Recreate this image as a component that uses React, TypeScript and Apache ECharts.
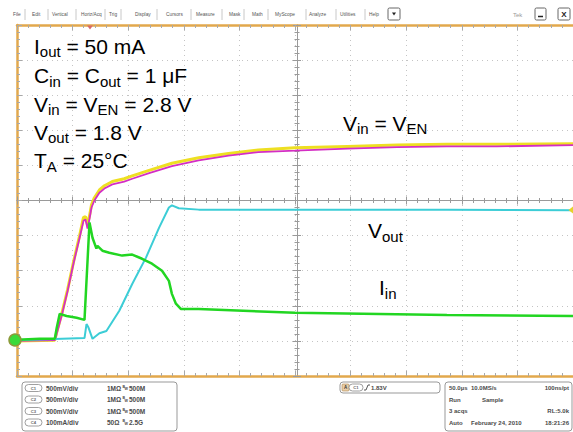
import React, { useEffect, useRef } from 'react';
import * as echarts from 'echarts';

// ---- data (time in µs, 50 µs/div; voltages in V, 500 mV/div; current in mA, 100 mA/div)
const vinTime = [0, 34, 35.7, 40.2, 45.5, 50.9, 56.3, 59.8, 61.6, 63.4, 65.2, 67.0, 69.6, 74.1, 78.6, 85.7, 96.4, 103.6, 118.8, 139.3, 163.4, 190.2, 217, 250, 297.3, 342, 386.6, 431.3, 500];
const vinMagenta = [0, 0.01, 0.10, 0.36, 0.71, 1.11, 1.47, 1.71, 1.73, 1.60, 1.74, 1.90, 2.00, 2.11, 2.17, 2.23, 2.27, 2.31, 2.39, 2.49, 2.57, 2.64, 2.69, 2.71, 2.74, 2.76, 2.77, 2.77, 2.79];
const vinYellow = [0, 0.01, 0.12, 0.38, 0.73, 1.13, 1.50, 1.76, 1.77, 1.66, 1.78, 1.94, 2.04, 2.15, 2.21, 2.27, 2.31, 2.35, 2.43, 2.53, 2.61, 2.67, 2.72, 2.75, 2.77, 2.79, 2.80, 2.80, 2.81];

const voutTime = [0, 60.7, 62.5, 64.3, 67.9, 74.1, 80.4, 92.0, 103.6, 116.1, 127.7, 136.6, 139.3, 145.5, 163.4, 250, 386.6, 500];
const voutValues = [0.01, 0.04, 0.24, 0.19, 0.03, 0.11, 0.14, 0.43, 0.81, 1.19, 1.61, 1.90, 1.93, 1.89, 1.87, 1.87, 1.87, 1.86];

const iinTime = [0, 20.5, 34, 35.7, 38.4, 44.6, 53.6, 60.7, 65.2, 67.9, 71.4, 72.3, 76.8, 83.0, 94.6, 103.6, 112.5, 121.4, 130.4, 136.6, 139.3, 142.9, 147.3, 163.4, 250, 386.6, 500];
const iinValues = [3, 6, 6, 37, 77, 71, 66, 60, 337, 294, 263, 271, 257, 251, 243, 246, 234, 220, 200, 171, 134, 106, 91, 91, 80, 74, 71];

const menuItems = ['File', 'Edit', 'Vertical', 'Horiz/Acq', 'Trig', 'Display', 'Cursors', 'Measure', 'Mask', 'Math', 'MyScope', 'Analyze', 'Utilities', 'Help'];
const menuX = [13, 32, 52, 81, 109, 135, 166, 196, 229, 252, 275, 309, 340, 369];
const menuSep = [25, 48, 76, 105, 121, 157, 191, 222, 244, 268, 306, 336, 365];

const channelRows = [
  ['C1', '500mV/div', '1MΩ', '500M'],
  ['C2', '500mV/div', '1MΩ', '500M'],
  ['C3', '500mV/div', '1MΩ', '500M'],
  ['C4', '100mA/div', '50Ω', '2.5G'],
];

const FONT = '"Liberation Sans", Arial, Helvetica, sans-serif';
const frameColor = '#e2a84c';
const tickColor = '#a8a8a8';
const dotColor = '#c4c4c4';

const zip = (a: number[], b: number[]) => a.map((v, i) => [v, b[i]]);

function ann(x: number, y: number, parts: [string, boolean][]) {
  return {
    type: 'text',
    x,
    y,
    z: 50,
    style: {
      text: parts.map(([t, s]) => `{${s ? 's' : 'm'}|${t}}`).join(''),
      rich: {
        m: { fontSize: 21, fontFamily: FONT, fill: '#000' },
        s: { fontSize: 15, fontFamily: FONT, fill: '#000', padding: [11, 0, 0, 0] },
      },
      verticalAlign: 'middle',
      align: 'left',
    },
  };
}

function small(x: number, y: number, text: string, opts: any = {}) {
  return {
    type: 'text',
    x,
    y,
    z: 60,
    style: {
      text,
      fontSize: opts.fontSize || 6,
      fontWeight: opts.bold === false ? 'normal' : 'bold',
      fontFamily: FONT,
      fill: opts.fill || '#4a4a4a',
      verticalAlign: 'middle',
      align: opts.align || 'left',
    },
  };
}

function pill(x: number, y: number, w: number, label: string) {
  return [
    { type: 'rect', z: 60, shape: { x, y: y - 3.5, width: w, height: 7, r: 3.5 }, style: { fill: '#fff', stroke: '#888', lineWidth: 0.8 } },
    small(x + w / 2, y, label, { fontSize: 4.2, align: 'center', fill: '#666' }),
  ];
}

export default function App() {
  const ref = useRef<HTMLDivElement>(null);
  useEffect(() => {
    if (!ref.current) return;
    const chart = echarts.init(ref.current, undefined, { renderer: 'svg' });

    const borderAxis = (position: string, extra: any = {}) => ({
      type: 'value',
      position,
      axisLine: { show: true, onZero: false, lineStyle: { color: frameColor, width: 2.5 } },
      axisTick: { show: true, inside: true, length: 5, lineStyle: { color: tickColor, width: 1 } },
      minorTick: { show: true, splitNumber: 5, length: 3, lineStyle: { color: tickColor, width: 1 } },
      axisLabel: { show: false },
      splitLine: { show: false },
      ...extra,
    });
    const centerAxis = (position: string, offset: number, inside: boolean, extra: any = {}) => ({
      type: 'value',
      position,
      offset,
      axisLine: { show: true, onZero: false, lineStyle: { color: '#9a9a9a', width: 1 } },
      axisTick: { show: true, inside, length: 4, lineStyle: { color: '#9a9a9a', width: 1 } },
      minorTick: { show: true, splitNumber: 5, length: 2.5, lineStyle: { color: '#9a9a9a', width: 1 } },
      axisLabel: { show: false },
      splitLine: { show: false },
      ...extra,
    });

    const xRange = { min: 0, max: 500, interval: 50 };
    const yRange = { min: -0.5, max: 4.5, interval: 0.5 };

    const graphics: any[] = [];
    // menu bar
    menuItems.forEach((m, i) => graphics.push(small(menuX[i], 14.5, m, { fontSize: 4.8, bold: false, fill: '#555' })));
    menuSep.forEach((sx) => graphics.push({ type: 'line', z: 60, shape: { x1: sx, y1: 9, x2: sx, y2: 20 }, style: { stroke: '#c8c8c8', lineWidth: 1 } }));
    graphics.push({ type: 'rect', z: 60, shape: { x: 388, y: 8, width: 12, height: 12, r: 1.5 }, style: { fill: '#fff', stroke: '#666', lineWidth: 1 } });
    graphics.push({ type: 'polygon', z: 61, shape: { points: [[392, 12.5], [396, 12.5], [394, 15.5]] }, style: { fill: '#222' } });
    graphics.push(small(513, 14.5, 'Tek', { fontSize: 6, bold: false, fill: '#999' }));
    graphics.push({ type: 'rect', z: 60, shape: { x: 535, y: 8, width: 11, height: 12, r: 1.5 }, style: { fill: '#fff', stroke: '#666', lineWidth: 1 } });
    graphics.push({ type: 'line', z: 61, shape: { x1: 538, y1: 16.5, x2: 543, y2: 16.5 }, style: { stroke: '#222', lineWidth: 1.5 } });
    graphics.push({ type: 'rect', z: 60, shape: { x: 558, y: 8, width: 12, height: 12, r: 1.5 }, style: { fill: '#fff', stroke: '#666', lineWidth: 1 } });
    graphics.push(small(564, 14.5, 'X', { fontSize: 8, align: 'center', fill: '#222' }));

    // scope markers
    graphics.push({ type: 'polygon', z: 40, shape: { points: [[87, 25.5], [93, 25.5], [90, 29.5]] }, style: { fill: '#d86a6a' } });
    graphics.push({ type: 'polygon', z: 40, shape: { points: [[573, 206.5], [573, 213.5], [568.5, 210]] }, style: { fill: '#e6d22a' } });
    graphics.push({ type: 'circle', z: 45, shape: { cx: 15, cy: 340, r: 6 }, style: { fill: '#3ada3a', stroke: '#8c9a3a', lineWidth: 1.5 } });

    // annotations
    graphics.push(ann(34, 46, [['I', false], ['out', true], [' = 50 mA', false]]));
    graphics.push(ann(34, 75.5, [['C', false], ['in', true], [' = C', false], ['out', true], [' = 1 μF', false]]));
    graphics.push(ann(34, 104, [['V', false], ['in', true], [' = V', false], ['EN', true], [' = 2.8 V', false]]));
    graphics.push(ann(34, 132, [['V', false], ['out', true], [' = 1.8 V', false]]));
    graphics.push(ann(34, 160.5, [['T', false], ['A', true], [' = 25°C', false]]));
    graphics.push(ann(343, 123, [['V', false], ['in', true], [' = V', false], ['EN', true]]));
    graphics.push(ann(368, 230.5, [['V', false], ['out', true]]));
    graphics.push(ann(379, 287.5, [['I', false], ['in', true]]));

    // channel panel
    graphics.push({ type: 'rect', z: 55, shape: { x: 22, y: 382, width: 155, height: 49, r: 3 }, style: { fill: '#fff', stroke: '#999', lineWidth: 1 } });
    const rowY = [388, 399.5, 411, 422.5];
    channelRows.forEach((r, i) => {
      const y = rowY[i];
      graphics.push(...pill(25, y, 17, r[0]));
      graphics.push(small(46, y, r[1], { fontSize: 6.5 }));
      graphics.push(small(107, y, r[2], { fontSize: 6.5 }));
      graphics.push(small(122.5, y - 1.2, 'B', { fontSize: 3.6 }));
      graphics.push(small(124.5, y + 1.2, 'W', { fontSize: 3.6 }));
      graphics.push(small(129, y, r[3], { fontSize: 6.5 }));
    });

    // trigger panel
    graphics.push({ type: 'rect', z: 55, shape: { x: 340, y: 382, width: 100, height: 11, r: 3 }, style: { fill: '#fff', stroke: '#999', lineWidth: 1 } });
    graphics.push({ type: 'rect', z: 58, shape: { x: 342, y: 384, width: 7, height: 7, r: 1 }, style: { fill: '#e8cfa8', stroke: '#b08850', lineWidth: 0.6 } });
    graphics.push(small(345.5, 387.5, 'A', { fontSize: 4.5, align: 'center', fill: '#333' }));
    graphics.push(...pill(349, 387.5, 14, 'C1'));
    graphics.push({ type: 'polyline', z: 60, shape: { points: [[364, 390], [366, 390], [368, 385], [370, 385]] }, style: { stroke: '#444', lineWidth: 0.9, fill: 'none' } });
    graphics.push(small(371, 387.5, '1.83V'));

    // timebase panel
    graphics.push({ type: 'rect', z: 55, shape: { x: 445, y: 382, width: 127, height: 49, r: 3 }, style: { fill: '#fff', stroke: '#999', lineWidth: 1 } });
    graphics.push(small(449, 388, '50.0µs'));
    graphics.push(small(471, 388, '10.0MS/s'));
    graphics.push(small(569, 388, '100ns/pt', { align: 'right' }));
    graphics.push(small(449, 399.5, 'Run'));
    graphics.push(small(482, 399.5, 'Sample'));
    graphics.push(small(449, 411, '3 acqs'));
    graphics.push(small(569, 411, 'RL:5.0k', { align: 'right' }));
    graphics.push(small(449, 422.5, 'Auto'));
    graphics.push(small(471, 422.5, 'February 24, 2010'));
    graphics.push(small(569, 422.5, '18:21:26', { align: 'right' }));

    const option: any = {
      animation: false,
      backgroundColor: '#ffffff',
      grid: { left: 17, top: 25, width: 560, height: 351, containLabel: false },
      xAxis: [
        borderAxis('bottom', { ...xRange, splitLine: { show: true, lineStyle: { color: dotColor, type: [1, 4], width: 1 } } }),
        borderAxis('top', { ...xRange }),
        centerAxis('bottom', -175.5, true, { ...xRange }),
        centerAxis('bottom', -175.5, false, { ...xRange }),
      ],
      yAxis: [
        borderAxis('left', { ...yRange, splitLine: { show: true, lineStyle: { color: dotColor, type: [1, 4], width: 1 } } }),
        { type: 'value', min: -100, max: 900, interval: 100, show: false, axisLine: { onZero: false } },
        centerAxis('left', -280, true, { ...yRange }),
        centerAxis('left', -280, false, { ...yRange }),
      ],
      series: [
        { type: 'line', name: 'Vin (C1)', xAxisIndex: 0, yAxisIndex: 0, data: zip(vinTime, vinYellow), symbol: 'none', lineStyle: { color: '#eedf22', width: 3 }, z: 3 },
        { type: 'line', name: 'VEN (C2)', xAxisIndex: 0, yAxisIndex: 0, data: zip(vinTime, vinMagenta), symbol: 'none', lineStyle: { color: '#d42ec4', width: 1.8 }, z: 4 },
        { type: 'line', name: 'Vout (C3)', xAxisIndex: 0, yAxisIndex: 0, data: zip(voutTime, voutValues), symbol: 'none', lineStyle: { color: '#3ccdd6', width: 2 }, z: 5 },
        { type: 'line', name: 'Iin (C4)', xAxisIndex: 0, yAxisIndex: 1, data: zip(iinTime, iinValues), symbol: 'none', lineStyle: { color: '#22d622', width: 2.5 }, z: 6 },
      ],
      graphic: graphics,
    };
    chart.setOption(option);
    return () => chart.dispose();
  }, []);

  return <div ref={ref} style={{ position: 'fixed', left: 0, top: 0, width: 573, height: 432, background: '#fff' }} />;
}
